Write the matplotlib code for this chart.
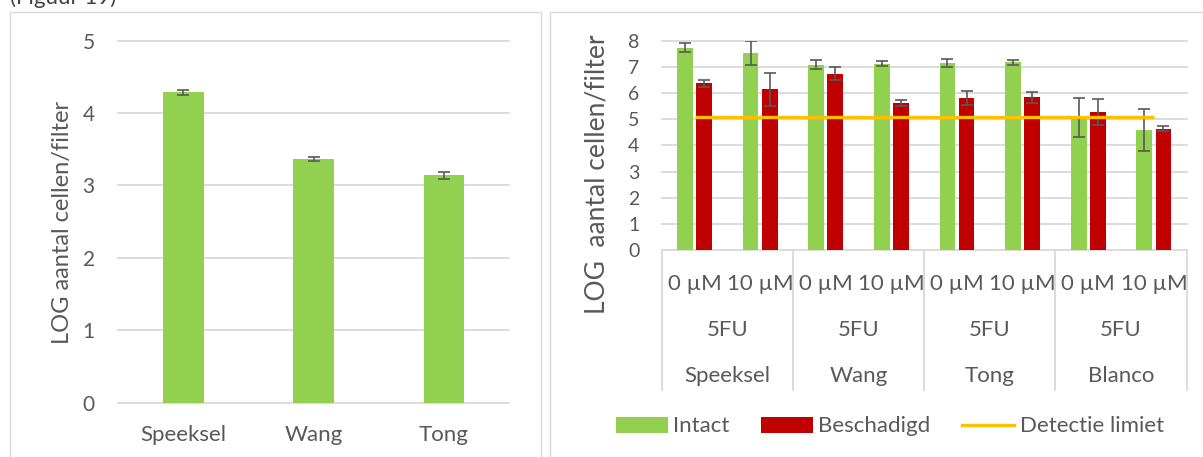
import numpy as np
import matplotlib.pyplot as plt
from matplotlib.patches import Rectangle, Patch
from matplotlib.lines import Line2D

plt.rcParams['font.family'] = ['Lato', 'DejaVu Sans']

# left chart: log cell count per sampling site
sites = ['Speeksel', 'Wang', 'Tong']
log_cells = [4.29, 3.37, 3.14]
log_cells_err = [0.035, 0.03, 0.05]

# right chart: intact / damaged cells after 5FU treatment
groups = ['Speeksel', 'Wang', 'Tong', 'Blanco']
doses = ['0 µM', '10 µM']
treatment = '5FU'
intact = [7.73, 7.52, 7.08, 7.12, 7.14, 7.17, 5.07, 4.58]
intact_err = [0.18, 0.45, 0.17, 0.09, 0.16, 0.11, 0.74, 0.80]
damaged = [6.37, 6.14, 6.73, 5.62, 5.81, 5.84, 5.28, 4.63]
damaged_err = [0.14, 0.63, 0.25, 0.13, 0.25, 0.21, 0.49, 0.10]
detection_limit = [5.07, 5.07, 5.07, 5.07, 5.07, 5.07, 5.07, 5.07]

green = '#92D050'
red = '#C00000'
orange = '#FFC000'
text_grey = '#595959'
grid_grey = '#D9D9D9'
err_grey = '#595959'

W, H = 1203, 457


def px_box(x0, y0, x1, y1):
    return [x0 / W, 1 - y1 / H, (x1 - x0) / W, (y1 - y0) / H]


fig = plt.figure(figsize=(W / 100, H / 100), dpi=100)

# chart frames
fig.patches.append(Rectangle((10 / W, -0.05), 531 / W, 1.05 - 12 / H,
                             transform=fig.transFigure, fill=False,
                             edgecolor=grid_grey, lw=1.0))
fig.patches.append(Rectangle((550 / W, -0.05), 660 / W, 1.05 - 12 / H,
                             transform=fig.transFigure, fill=False,
                             edgecolor=grid_grey, lw=1.0))
fig.text(10 / W, 1 - 4 / H, '(Figuur 19)', fontsize=16, color='#404040',
         va='baseline', ha='left')


def style_axes(ax, ymax, tick_size, pad):
    ax.set_ylim(0, ymax)
    ax.set_yticks(np.arange(0, ymax + 1))
    ax.yaxis.grid(True, color=grid_grey, lw=1.3)
    ax.set_axisbelow(True)
    for s in ax.spines.values():
        s.set_visible(False)
    ax.tick_params(axis='y', length=0, pad=pad, labelsize=tick_size,
                   labelcolor=text_grey)
    ax.set_xticks([])
    for gl in ax.yaxis.get_gridlines():
        gl.set_clip_on(False)


# ---- left chart ----
ax1 = fig.add_axes(px_box(118.3, 40.7, 509, 402.7))
x1 = np.arange(len(sites))
ax1.bar(x1, log_cells, width=0.31, color=green, zorder=2)
ax1.errorbar(x1, log_cells, yerr=log_cells_err, fmt='none', ecolor=err_grey,
             elinewidth=1.2, capsize=4.6, capthick=1.2, zorder=3)
ax1.set_xlim(-0.5, len(sites) - 0.5)
style_axes(ax1, 5, 15, 17)
xt1 = ax1.get_xaxis_transform()
for i, name in enumerate(sites):
    ax1.text(i, -38.3 / 362, name, transform=xt1, ha='center',
             va='baseline', fontsize=16, color=text_grey)
fig.text(62 / W, 1 - 222 / H, 'LOG aantal cellen/filter', rotation=90,
         ha='center', va='center', fontsize=17, color=text_grey)

# ---- right chart ----
ax2 = fig.add_axes(px_box(661.7, 40.7, 1186.7, 250))
x2 = np.arange(len(intact))
off, bw = 0.145, 0.24
ax2.bar(x2 - off, intact, width=bw, color=green, zorder=2)
ax2.bar(x2 + off, damaged, width=bw, color=red, zorder=2)
ax2.errorbar(x2 - off, intact, yerr=intact_err, fmt='none', ecolor=err_grey,
             elinewidth=1.2, capsize=4.6, capthick=1.2, zorder=3)
ax2.errorbar(x2 + off, damaged, yerr=damaged_err, fmt='none',
             ecolor=err_grey, elinewidth=1.2, capsize=4.6, capthick=1.2,
             zorder=3)
ax2.plot(x2, detection_limit, color=orange, lw=2.4, solid_capstyle='butt',
         zorder=4)
ax2.set_xlim(-0.5, len(intact) - 0.5)
style_axes(ax2, 8, 14, 16)

# multi-level category axis
ah = 209.3
xt2 = ax2.get_xaxis_transform()
for i in x2:
    ax2.text(i, -39.5 / ah, doses[i % 2], transform=xt2, ha='center',
             va='baseline', fontsize=16, color=text_grey)
for g, name in enumerate(groups):
    c = 2 * g + 0.5
    ax2.text(c, -86.3 / ah, treatment, transform=xt2, ha='center',
             va='baseline', fontsize=16, color=text_grey)
    ax2.text(c, -132 / ah, name, transform=xt2, ha='center',
             va='baseline', fontsize=16, color=text_grey)
for b in np.arange(len(groups) + 1) * 2 - 0.5:
    ax2.plot([b, b], [0, -140 / ah], transform=xt2, color=grid_grey, lw=1.3,
             clip_on=False)
fig.text(597.5 / W, 1 - 174 / H, 'LOG  aantal cellen/filter', rotation=90,
         ha='center', va='center', fontsize=19, color=text_grey)

handles = [Patch(facecolor=green), Patch(facecolor=red),
           Line2D([], [], color=orange, lw=2.4)]
fig.legend(handles, ['Intact', 'Beschadigd', 'Detectie limiet'],
           loc='center left', bbox_to_anchor=(616 / W, 1 - 426.5 / H),
           ncol=3, frameon=False, fontsize=16, labelcolor=text_grey,
           handlelength=2.34, handleheight=0.7, handletextpad=0.23,
           columnspacing=1.43, borderpad=0, borderaxespad=0)

fig.savefig('out.png', dpi=100)
